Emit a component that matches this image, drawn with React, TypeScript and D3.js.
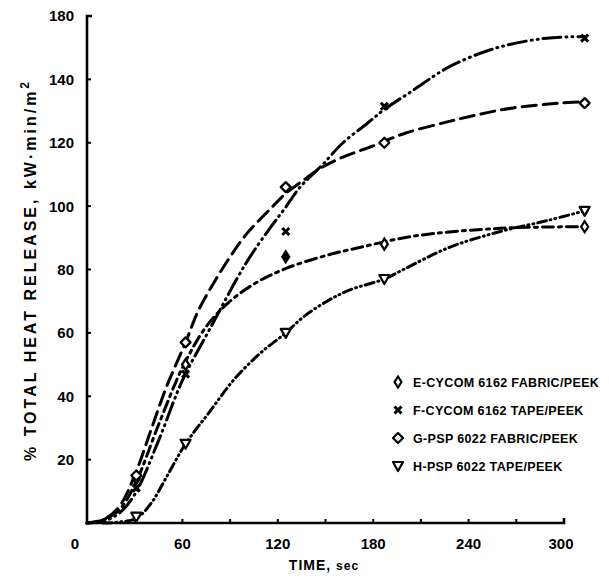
import React from "react";
import * as d3 from "d3";

// ---- data (time in s, value in %) ----
const markerTimes = [31, 62, 125, 187, 313];
const eValues = [14, 50, 84, 88, 93.5];
const eFilled = [false, false, true, false, false];
const fValues = [11, 47, 92, 131.5, 153];
const gValues = [15, 57, 106, 120, 132.5];
const hValues = [2, 25, 60, 77, 98.5];

const eCurve: [number, number][] = [[0,0],[10,1],[20,4],[30,12],[45,31],[60,49],[75,62],[90,70],[107,76],[126,80.5],[151,84.5],[172,87],[205,90.5],[260,93],[313,93.5]];
const fCurve: [number, number][] = [[0,0],[10,0.5],[20,3],[30,9],[45,26],[60,45],[77,61],[100,82],[115,93],[124,99],[134,106],[148,113],[161,120],[176,126],[187,130.5],[205,136.5],[228,144],[258,150],[289,153],[313,153.5]];
const gCurve: [number, number][] = [[0,0],[10,1],[20,5],[30,15],[40,29],[50,43],[62,57],[70,67],[80,76],[90,84],[100,91],[117,100],[125,104],[137,108.5],[147,112],[161,115.5],[180,119],[200,123],[226,126.5],[247,129],[268,131],[297,132.5],[313,133]];
const hCurve: [number, number][] = [[10,0],[20,0.3],[31,1.5],[40,6],[50,14.5],[62,25],[77,35],[92,45],[109,53.6],[125,60],[136,65],[151,70],[165,73.5],[187,77],[199,80],[228,87],[260,92],[290,95.5],[313,98.5]];

const xTickValues = [30, 60, 90, 120, 150, 180, 210, 240, 270, 300];
const xLabelValues = [0, 60, 120, 180, 240, 300];
const yTickValues = [20, 40, 60, 80, 100, 120, 140, 160];
const yTickLabels = ["20", "40", "60", "80", "100", "120", "140", "180"];

const legendLabels = [
  "E-CYCOM 6162 FABRIC/PEEK",
  "F-CYCOM 6162 TAPE/PEEK",
  "G-PSP 6022 FABRIC/PEEK",
  "H-PSP 6022 TAPE/PEEK",
];

const W = 609, H = 582;
const FONT = "'Liberation Sans', Arial, sans-serif";

function Marker({ kind, x, y, filled }: { kind: string; x: number; y: number; filled?: boolean }) {
  const sw = 2.2;
  if (kind === "E") {
    return <path d={`M${x},${y - 5.5}L${x + 3.5},${y}L${x},${y + 5.5}L${x - 3.5},${y}Z`} fill={filled ? "#000" : "#fff"} stroke="#000" strokeWidth={sw} />;
  }
  if (kind === "F") {
    return <path d={`M${x - 3.5},${y - 3.5}L${x + 3.5},${y + 3.5}M${x + 3.5},${y - 3.5}L${x - 3.5},${y + 3.5}`} stroke="#000" strokeWidth={3} />;
  }
  if (kind === "G") {
    return <path d={`M${x},${y - 5}L${x + 5},${y}L${x},${y + 5}L${x - 5},${y}Z`} fill="#fff" stroke="#000" strokeWidth={sw} strokeLinejoin="round" />;
  }
  return <path d={`M${x - 5},${y - 4}L${x + 5},${y - 4}L${x},${y + 5}Z`} fill="#fff" stroke="#000" strokeWidth={sw} strokeLinejoin="round" />;
}

export default function App() {
  const x = d3.scaleLinear().domain([0, 300]).range([87, 564]);
  const y = d3.scaleLinear().domain([0, 160]).range([523, 16]);
  const line = d3
    .line<[number, number]>()
    .x((d) => x(d[0]))
    .y((d) => y(d[1]))
    .curve(d3.curveCatmullRom.alpha(0.5));

  const series = [
    { kind: "E", curve: eCurve, values: eValues, dash: "11 5 3 5" },
    { kind: "F", curve: fCurve, values: fValues, dash: "18 5 1 5 1 5" },
    { kind: "G", curve: gCurve, values: gValues, dash: "14 7" },
    { kind: "H", curve: hCurve, values: hValues, dash: "9 4 1 4 1 4" },
  ];

  return (
    <svg width={W} height={H} style={{ display: "block", position: "absolute", left: 0, top: 0, background: "#fff" }} fontFamily={FONT}>
      <rect x={0} y={0} width={W} height={H} fill="#fff" />
      {/* curves */}
      {series.map((s) => (
        <path key={s.kind} d={line(s.curve) || ""} fill="none" stroke="#000" strokeWidth={3} strokeDasharray={s.dash} strokeLinecap="round" />
      ))}
      {/* axes */}
      <path d={`M${x(0) + 5},${y(160)}L${x(0)},${y(160)}L${x(0)},${y(0)}L${x(300)},${y(0)}L${x(300)},${y(0) - 5}`} fill="none" stroke="#000" strokeWidth={2.6} />
      {yTickValues.map((v) => (
        <line key={v} x1={x(0)} x2={x(0) + 4} y1={y(v)} y2={y(v)} stroke="#000" strokeWidth={2} />
      ))}
      {xTickValues.map((t) => (
        <line key={t} x1={x(t)} x2={x(t)} y1={y(0)} y2={y(0) - 4} stroke="#000" strokeWidth={2} />
      ))}
      {yTickValues.map((v, i) => (
        <text key={v} x={74} y={y(v)} dy="0.36em" textAnchor="end" fontSize={15} fontWeight="bold">{yTickLabels[i]}</text>
      ))}
      {xLabelValues.map((t) => (
        <text key={t} x={t === 0 ? 75 : x(t) - (t === 300 ? 3 : 0)} y={549} textAnchor="middle" fontSize={15} fontWeight="bold">{String(t)}</text>
      ))}
      <text x={324} y={570} textAnchor="middle" fontSize={14} fontWeight="bold" letterSpacing={1}>TIME, <tspan fontSize={12}>sec</tspan></text>
      <text transform={`translate(36,${270}) rotate(-90)`} textAnchor="middle" fontSize={16} fontWeight="bold" letterSpacing={3}>
        % TOTAL HEAT RELEASE, kW·min/m<tspan dy={-7} fontSize={12}>2</tspan>
      </text>
      {/* markers */}
      {series.map((s) =>
        s.values.map((v, i) => (
          <Marker key={s.kind + i} kind={s.kind} x={x(markerTimes[i])} y={y(v)} filled={s.kind === "E" ? eFilled[i] : false} />
        ))
      )}
      {/* legend */}
      {legendLabels.map((l, i) => {
        const ly = 382 + i * 28;
        return (
          <g key={l}>
            <Marker kind={["E", "F", "G", "H"][i]} x={398} y={ly} />
            <text x={413} y={ly} dy="0.36em" fontSize={12.5} fontWeight="bold" letterSpacing={0.35}>{l}</text>
          </g>
        );
      })}
    </svg>
  );
}
